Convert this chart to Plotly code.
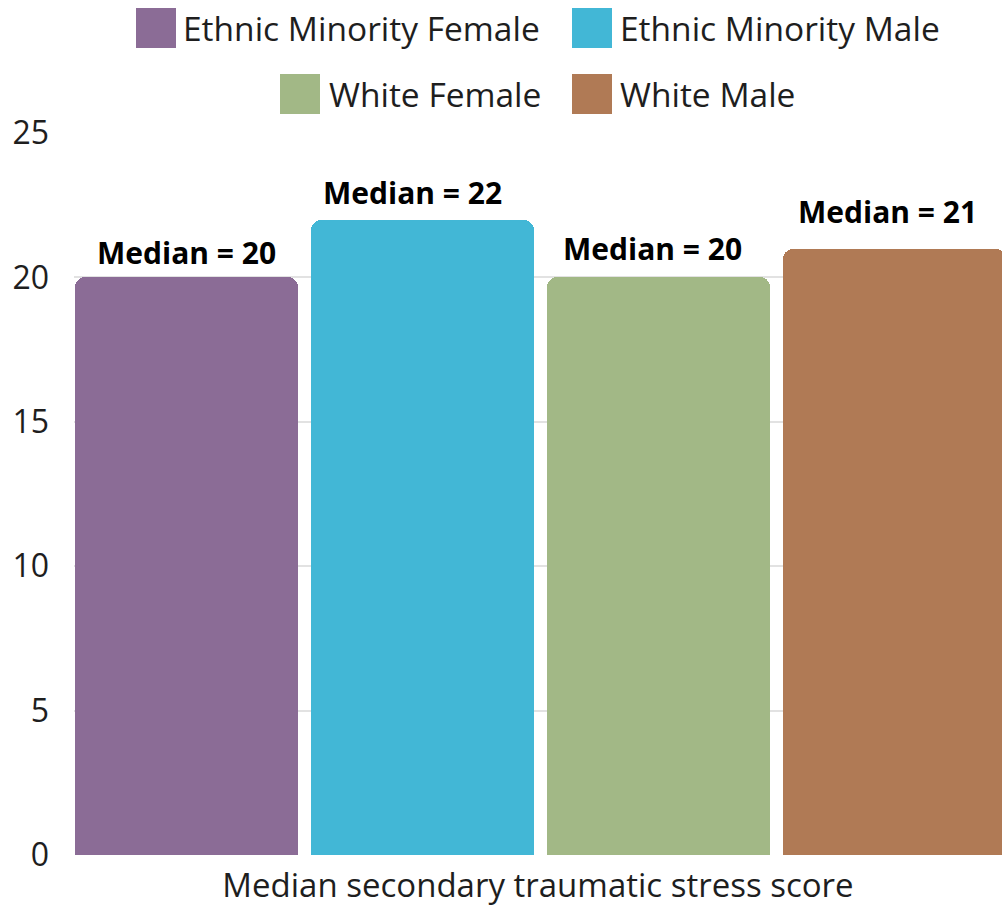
import plotly.graph_objects as go

# Median secondary traumatic stress score by group
groups = ["Ethnic Minority Female", "Ethnic Minority Male", "White Female", "White Male"]
medians = [20, 22, 20, 21]
colors = ["#8B6C96", "#42B7D6", "#A2B886", "#B07A55"]
y_ticks = [0, 5, 10, 15, 20, 25]

# per-label offsets (px) relative to the bar top centre
label_lift = [2, 5, 6, 15]
label_nudge = [0, -10, -6, -7]

W, H = 1002, 907
ML, MR, MT, MB = 74, 0, 133, 52
plot_w = W - ML - MR
plot_h = H - MT - MB

fig = go.Figure()
fig.add_trace(go.Bar(
    x=groups,
    y=medians,
    width=0.945,
    marker=dict(color=colors, line=dict(width=0), cornerradius=10),
    showlegend=False,
    hoverinfo="x+y",
))

# bold value labels above each bar
for g, v, lift, nudge in zip(groups, medians, label_lift, label_nudge):
    fig.add_annotation(
        x=g, y=v, text=f"<b>Median = {v}</b>", showarrow=False,
        yanchor="bottom", yshift=lift, xshift=nudge,
        font=dict(family="Open Sans", size=30, color="#000000"),
    )

# two-row centred legend with large square swatches
def px_to_paper_x(px):
    return (px - ML) / plot_w

def px_to_paper_y(py):
    return (H - MB - py) / plot_h

legend_rows = [
    [(136, 181, 28), (572, 618, 28)],
    [(280, 327, 94), (572, 618, 94)],
]
sw = 40
items = [pos for row in legend_rows for pos in row]
for (sx, tx, cy), name, col in zip(items, groups, colors):
    fig.add_shape(
        type="rect", xref="paper", yref="paper",
        x0=px_to_paper_x(sx), x1=px_to_paper_x(sx + sw),
        y0=px_to_paper_y(cy + sw / 2), y1=px_to_paper_y(cy - sw / 2),
        fillcolor=col, line=dict(width=0), layer="above",
    )
    fig.add_annotation(
        xref="paper", yref="paper",
        x=px_to_paper_x(tx), y=px_to_paper_y(cy),
        text=name, showarrow=False, xanchor="left", yanchor="middle",
        font=dict(family="Open Sans", size=33.5, color="#1E1E1E"),
    )

fig.update_layout(
    width=W, height=H,
    margin=dict(l=ML, r=MR, t=MT, b=MB),
    paper_bgcolor="white", plot_bgcolor="white",
    showlegend=False,
    bargap=0,
)
fig.update_xaxes(
    range=[-0.4767, 3.455],
    showticklabels=False, showgrid=False, zeroline=False, showline=False,
    title=dict(text="Median secondary traumatic stress score",
               font=dict(family="Open Sans", size=33, color="#1E1E1E"),
               standoff=21),
)
fig.update_yaxes(
    range=[0, 25], tickvals=y_ticks,
    showgrid=True, gridcolor="#E2E2E2", gridwidth=2,
    zeroline=False, showline=False, ticks="",
    tickfont=dict(family="Open Sans", size=32, color="#1E1E1E"),
    ticklabelstandoff=24,
)

fig.write_html("out.html")
